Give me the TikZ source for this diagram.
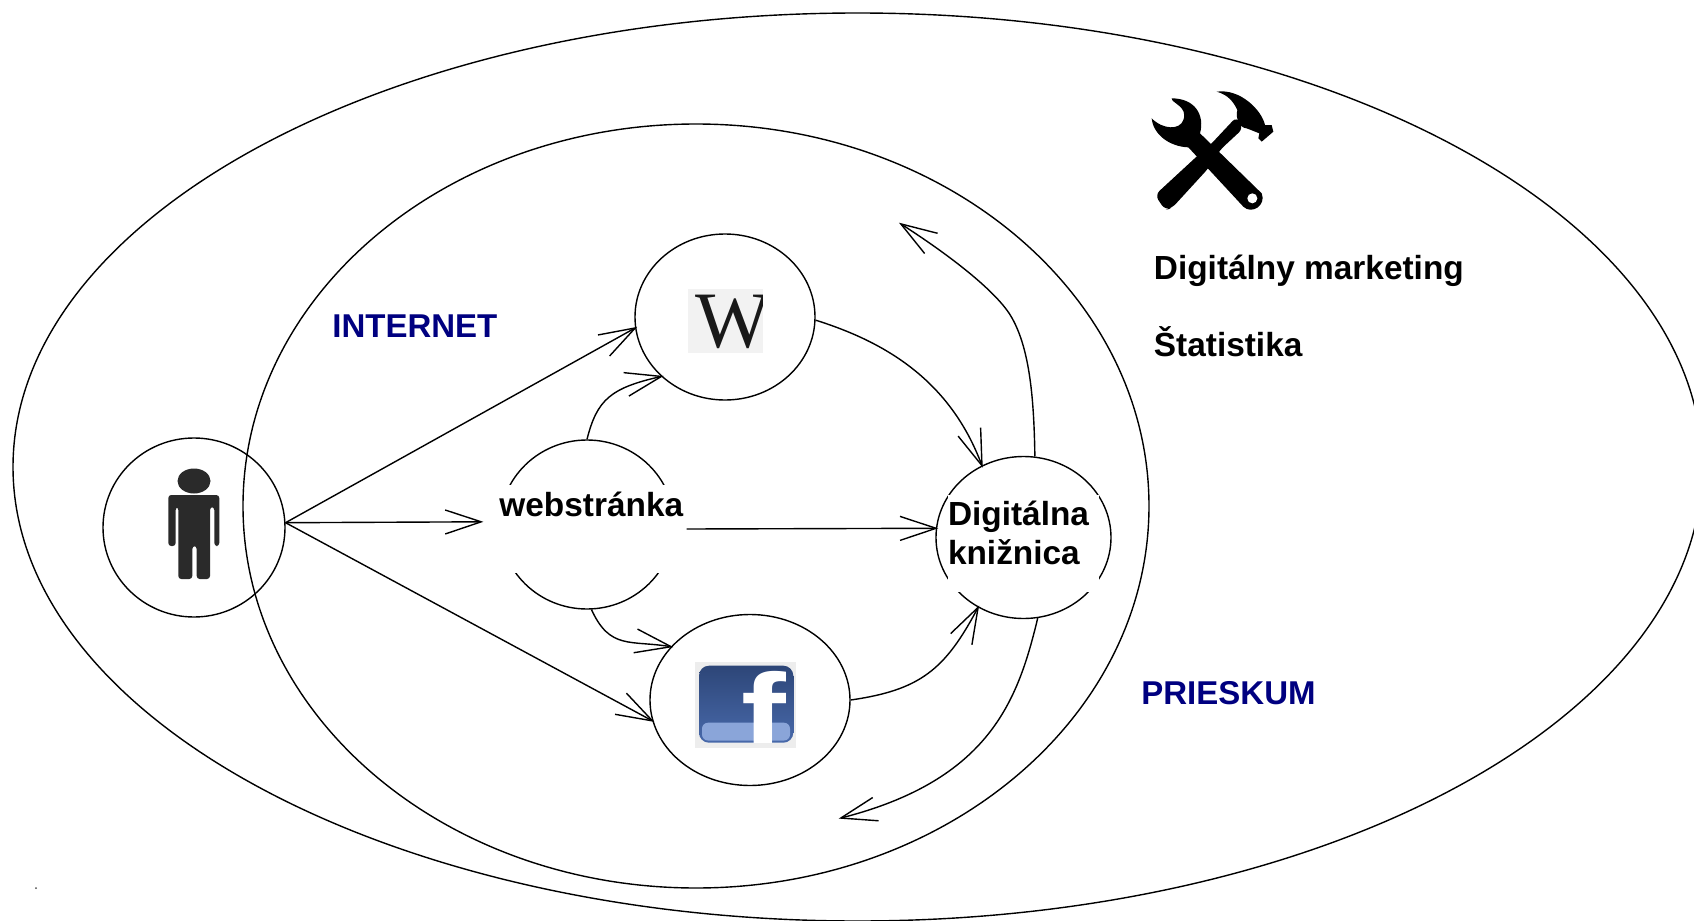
\documentclass[tikz,border=0pt]{standalone}
\usepackage{fontspec}
\setmainfont{Liberation Sans}
\newfontfamily\serifW{Liberation Serif}
\usetikzlibrary{arrows.meta,shapes.geometric}
\definecolor{navylabel}{RGB}{0,0,128}
\definecolor{persongray}{RGB}{42,42,42}
\definecolor{fbdark}{RGB}{45,70,120}
\definecolor{fbmid}{RGB}{72,105,170}
\definecolor{fblight}{RGB}{138,165,217}
\tikzset{
  oval/.style={ellipse,draw=black,line width=0.7pt,inner sep=0pt},
  conn/.style={draw=black,line width=0.7pt,line join=round,shorten >=-1.2pt,-{Straight Barb[length=18pt,width=12pt]}},
  lbl/.style={font=\fontsize{16.7pt}{19.5pt}\selectfont\bfseries,inner sep=0pt,anchor=base west},
  navylbl/.style={lbl,font=\fontsize{16.5pt}{19.5pt}\selectfont\bfseries,text=navylabel},
  cover/.style={fill=white,inner sep=0pt}
}
\begin{document}
\begin{tikzpicture}[x=0.5pt,y=-0.5pt]
\useasboundingbox (0,0) rectangle (1694,921);
\fill[white] (0,0) rectangle (1694,921);
\begin{scope}
\clip (0,0) rectangle (1694,921);
\node[oval,minimum width=844.6pt,minimum height=454pt] (outer) at (857.6,467) {};
\node[oval,minimum width=453pt,minimum height=382pt] (inner) at (696,506) {};
\end{scope}
\node[oval,minimum width=91pt,minimum height=89.5pt] (person) at (194,527.5) {};
\node[oval,minimum width=90pt,minimum height=83pt] (wiki) at (725,317) {};
\node[oval,minimum width=100pt,minimum height=85.5pt] (fb) at (750,700) {};
\node[oval,minimum width=87pt,minimum height=84.5pt] (web) at (587,524.5) {};
\node[oval,minimum width=87.5pt,minimum height=81pt] (dk) at (1023.5,537.5) {};
% text boxes that mask the circles
\node[lbl,cover] (webtext) at (481,516) {\rule{9pt}{0pt}\rule[-28.5pt]{0pt}{44pt}webstránka\rule{1.5pt}{0pt}};
\node[cover,font=\fontsize{16.7pt}{19.5pt}\selectfont\bfseries,align=left,text width=75.75pt,minimum height=48.5pt] (dktext) at (1023.25,543.5)
  {\hspace*{0.25pt}Digitálna\\\hspace*{0.25pt}knižnica\rule[-10.7pt]{0pt}{1pt}};
% labels
\node[navylbl] (internet) at (332,337) {INTERNET};
\node[navylbl] (prieskum) at (1141,704) {PRIESKUM};
\node[lbl] (marketing) at (1153.5,279) {Digitálny marketing};
\node[lbl] (statistika) at (1153.5,356) {Štatistika};
% connectors
\coordinate (upEnd) at (901,224);
\coordinate (downEnd) at (841,818);
\draw[conn] (person.3) -- (wiki.187);
\draw[conn] (person.3) -- (webtext.176.7);
\draw[conn] (person.3) -- (fb.192.8);
\draw[conn] (webtext.east) -- (dk.174.5);
\draw[conn] (web.90) .. controls (597,400) and (610,388) .. (wiki.223);
\draw[conn] (web.-87) .. controls (610,650) and (630,640) .. (fb.146);
\draw[conn] (wiki.-2.5) .. controls (885,342) and (950,380) .. (dk.120);
\draw[conn] (fb.-0.5) .. controls (920,690) and (945,670) .. (dk.237.5);
\draw[conn] (dk.82) .. controls (1034,400) and (1030,350) .. (1012,318) .. controls (1000,296) and (960,262) .. (upEnd);
\draw[conn] (dk.-80) .. controls (1018,700) and (990,780) .. (downEnd);
% person icon
\fill[persongray] (194,481) ellipse[x radius=16.5,y radius=12.5];
\fill[persongray,rounded corners=1.5pt] (168.3,495) -- (219.3,495) -- (219.3,546) -- (214.3,546) -- (214.3,507) -- (210,507) -- (210,579) -- (196.7,579) -- (196.7,546) -- (192.3,546) -- (192.3,579) -- (178.3,579) -- (178.3,507) -- (175.7,507) -- (175.7,546) -- (168.3,546) -- cycle;
% wikipedia logo
\fill[black!5] (687.7,289) rectangle (762.7,352.7);
\begin{scope}
\clip (687.7,289) rectangle (762.7,352.7);
\node[inner sep=0pt,anchor=base west,text=black!90,font=\serifW\fontsize{40pt}{40pt}\selectfont] (wtext) at (695,347) {W};
\end{scope}
% facebook logo
\fill[black!7] (695,661.7) rectangle (795.7,747.7);
\begin{scope}
\clip[rounded corners=5pt] (699,665.7) rectangle (793.3,742.7);
\shade[top color=fbdark,bottom color=fbmid] (699,665.7) rectangle (793.3,742.7);
\fill[fblight,rounded corners=3pt] (702,722.7) rectangle (790,740.5);
\node[inner sep=0pt,anchor=base west,text=white,xscale=1.2,font=\fontsize{56pt}{56pt}\selectfont\bfseries] (ftext) at (741,752) {f};
\end{scope}
% tools icon
\begin{scope}[shift={(1100,60)},x=0.16667pt,y=-0.16667pt]
\fill[black] (155,175) .. controls (190,210) and (240,210) .. (250,180) .. controls (265,140) and (215,130) .. (215,115) .. controls (285,115) and (315,165) .. (300,220) -- (485,400) .. controls (500,435) and (455,465) .. (430,440) -- (265,262) .. controls (210,260) and (160,225) .. (155,175) -- cycle;
\fill[white] (457,415) circle[radius=15];
\fill[black,rounded corners=3pt] (165,405) -- (295,285) -- (335,250) -- (410,170) -- (430,205) -- (360,270) -- (325,325) -- (215,445) -- (195,450) -- cycle;
\fill[black] (350,95) .. controls (420,85) and (485,150) .. (495,195) -- (515,195) -- (520,215) -- (485,245) -- (475,235) -- (478,220) -- (440,205) .. controls (420,205) and (405,175) .. (412,150) .. controls (400,125) and (385,105) .. (350,95) -- cycle;
\end{scope}
% stray dot
\fill[black!70] (36,888) circle[radius=1];
\end{tikzpicture}
\end{document}
